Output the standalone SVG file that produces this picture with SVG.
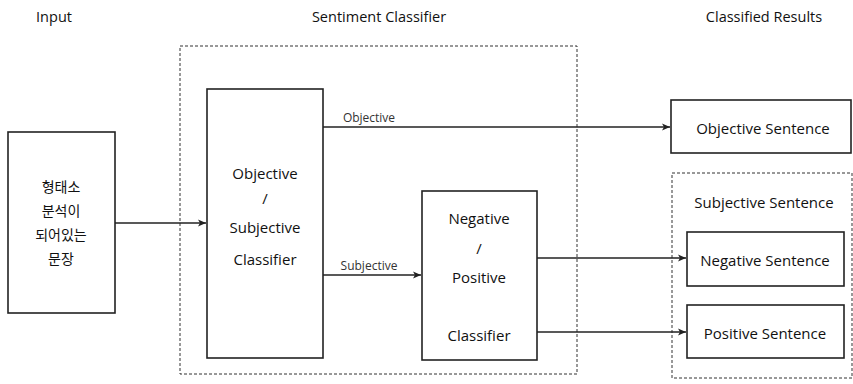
<svg xmlns="http://www.w3.org/2000/svg" width="853" height="384" viewBox="0 0 853 384">
<style>
  .box{fill:#fff;stroke:#222;stroke-width:1.6}
  .dash{fill:none;stroke:#333;stroke-width:1;stroke-dasharray:3 2}
  .t{font-family:"Open Sans","Noto Sans","Noto Sans CJK KR",sans-serif;font-size:15px;fill:#111;text-anchor:middle;dominant-baseline:central}
  .h{font-size:14.5px}
  .k{font-family:"Noto Sans CJK KR","Noto Sans",sans-serif;font-size:14px;fill:#111;text-anchor:middle;dominant-baseline:central}
  .s{font-family:"Open Sans","Noto Sans",sans-serif;font-size:12px;fill:#333;text-anchor:middle;dominant-baseline:central}
  .c{fill:none;stroke:#222;stroke-width:1.5}
</style>
<defs>
  <marker id="arr" markerWidth="10" markerHeight="8" refX="9" refY="4" orient="auto" markerUnits="userSpaceOnUse">
    <path d="M1,0.5 L9,4 L1,7.5 L3,4 Z" fill="#222"/>
  </marker>
</defs>
<rect width="853" height="384" fill="#fff"/>

<g id="headers">
  <text class="t h" x="54" y="16">Input</text>
  <text class="t h" x="379" y="16">Sentiment Classifier</text>
  <text class="t h" x="764" y="16">Classified Results</text>
</g>

<g id="sentiment-classifier-group">
  <rect class="dash" x="180" y="46" width="397" height="328"/>
</g>

<g id="subjective-sentence-group">
  <rect class="dash" x="672" y="173" width="180" height="205"/>
  <text class="t" x="764" y="202">Subjective Sentence</text>
</g>

<g id="input">
  <rect class="box" x="8" y="132" width="107" height="181"/>
  <text class="k" x="61" y="186">형태소</text>
  <text class="k" x="61" y="210">분석이</text>
  <text class="k" x="61" y="234">되어있는</text>
  <text class="k" x="61" y="258">문장</text>
</g>

<g id="obj-subj-classifier">
  <rect class="box" x="207" y="89" width="116" height="269"/>
  <text class="t" x="265" y="173">Objective</text>
  <text class="t" x="265" y="198">/</text>
  <text class="t" x="265" y="227">Subjective</text>
  <text class="t" x="265" y="259">Classifier</text>
</g>

<g id="neg-pos-classifier">
  <rect class="box" x="422" y="191" width="115" height="169"/>
  <text class="t" x="479" y="218">Negative</text>
  <text class="t" x="479" y="248">/</text>
  <text class="t" x="479" y="277">Positive</text>
  <text class="t" x="479" y="335">Classifier</text>
</g>

<g id="objective-sentence">
  <rect class="box" x="671" y="100" width="180" height="53"/>
  <text class="t" x="763" y="128">Objective Sentence</text>
</g>

<g id="negative-sentence">
  <rect class="box" x="687" y="232" width="157" height="54"/>
  <text class="t" x="765" y="260">Negative Sentence</text>
</g>

<g id="positive-sentence">
  <rect class="box" x="687" y="305" width="157" height="53"/>
  <text class="t" x="765" y="333">Positive Sentence</text>
</g>

<g id="connectors">
  <line class="c" x1="115" y1="223" x2="206" y2="223" marker-end="url(#arr)"/>
  <line class="c" x1="323" y1="127" x2="670" y2="127" marker-end="url(#arr)"/>
  <text class="s" x="369" y="117">Objective</text>
  <line class="c" x1="323" y1="275" x2="421" y2="275" marker-end="url(#arr)"/>
  <text class="s" x="369" y="265">Subjective</text>
  <line class="c" x1="537" y1="258" x2="686" y2="258" marker-end="url(#arr)"/>
  <line class="c" x1="537" y1="332" x2="686" y2="332" marker-end="url(#arr)"/>
</g>
</svg>
